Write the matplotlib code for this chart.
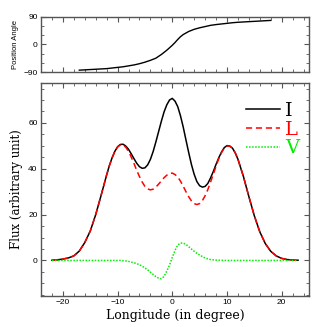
import matplotlib
matplotlib.use("Agg")
import matplotlib.pyplot as plt
from matplotlib.ticker import MultipleLocator

# longitude grid (deg): coarse on the wings, finer in the middle
lon = [-22, -21, -20, -19, -18, -17, -16, -15, -14, -13, -12,
       -11.5, -11, -10.5, -10, -9.5, -9, -8.5, -8, -7.5, -7, -6.5, -6,
       -5.5, -5, -4.5, -4, -3.5, -3, -2.5, -2, -1.5, -1, -0.5, 0,
       0.5, 1, 1.5, 2, 2.5, 3, 3.5, 4, 4.5, 5, 5.5, 6, 6.5, 7,
       7.5, 8, 8.5, 9, 9.5, 10, 10.5, 11, 11.5,
       12, 13, 14, 15, 16, 17, 18, 19, 20, 21, 22, 23]

flux_I = [0.1, 0.3, 0.6, 1.1, 2.0, 4.1, 7.8, 12.8, 20.0, 28.5, 37.3,
          41.4, 44.8, 47.6, 49.6, 50.6, 50.7, 49.9, 48.5, 46.5, 44.4, 42.4, 40.9,
          40.2, 40.4, 41.7, 44.1, 47.5, 51.7, 56.2, 60.7, 64.8, 67.9, 70.0, 70.7,
          69.5, 67.1, 63.1, 58.2, 52.6, 47.1, 41.9, 37.6, 34.4, 32.6, 32.0, 32.3, 33.6, 36.0,
          38.8, 41.9, 44.8, 47.3, 49.2, 50.1, 49.9, 49.0, 47.0,
          44.2, 36.7, 27.9, 19.5, 12.5, 7.4, 4.0, 2.0, 0.9, 0.4, 0.2, 0.1]

flux_L = [0.1, 0.3, 0.6, 1.1, 2.0, 4.1, 7.8, 12.8, 20.0, 28.5, 37.3,
          41.3, 44.7, 47.6, 49.5, 50.4, 50.4, 49.4, 47.6, 45.1, 42.3, 39.3, 36.6,
          34.2, 32.3, 31.2, 30.8, 31.1, 32.0, 33.3, 34.7, 36.1, 37.2, 38.0, 38.1,
          37.5, 36.4, 34.6, 32.4, 30.0, 27.8, 26.0, 24.8, 24.4, 24.8, 26.1, 28.2, 30.9, 34.2,
          37.6, 41.1, 44.4, 47.0, 49.0, 49.9, 49.9, 49.0, 47.0,
          44.2, 36.7, 27.9, 19.5, 12.5, 7.4, 4.0, 2.0, 0.9, 0.4, 0.2, 0.1]

flux_V = [0, 0, 0, 0, 0, 0, 0, 0, 0, 0, 0,
          0, 0, 0, 0, 0, -0.1, -0.2, -0.4, -0.7, -1.0, -1.4, -1.9,
          -2.5, -3.3, -4.1, -5.1, -6.1, -7.0, -7.7, -8.0, -7.0, -4.6, -2.0, 1.3,
          4.4, 6.7, 7.6, 7.6, 7.0, 6.0, 5.0, 4.0, 3.1, 2.4, 1.7, 1.1, 0.7, 0.4,
          0.25, 0.15, 0.08, 0.04, 0, 0, 0, 0, 0,
          0, 0, 0, 0, 0, 0, 0, 0, 0, 0, 0, 0]

# position angle sweep
pa_lon = [-17, -16, -15, -14, -13, -12, -11, -10, -9, -8, -7, -6, -5, -4, -3,
          -2, -1.5, -1, -0.5, 0, 0.5, 1, 1.5, 2, 2.5, 3, 4, 5, 6, 7, 8, 9, 10,
          11, 12, 13, 14, 15, 16, 17, 18]
pa = [-84, -83, -82, -81, -80, -79, -77, -75, -73, -70, -67, -63, -58, -52, -45,
      -33, -26, -19, -11, -3, 6, 16, 25, 32, 37, 42, 49, 54, 58, 62, 64.5, 66.5, 68.5,
      70.5, 72, 73, 74, 75, 76, 77, 78]

fig = plt.figure(figsize=(3.27, 3.27), dpi=100)
ax_pa = fig.add_axes([0.1254, 0.7798, 0.8196, 0.169])
ax = fig.add_axes([0.1254, 0.0948, 0.8196, 0.652])

frame = "#555555"
for a in (ax_pa, ax):
    a.set_xlim(-24, 25)
    a.xaxis.set_major_locator(MultipleLocator(10))
    a.xaxis.set_minor_locator(MultipleLocator(2))
    a.tick_params(which="both", direction="in", top=True, right=True,
                  colors=frame, labelcolor="black", labelsize=6, pad=2.5)
    a.tick_params(which="major", length=3.5, width=0.8)
    a.tick_params(which="minor", length=2, width=0.6)
    for s in a.spines.values():
        s.set_color(frame)
        s.set_linewidth(1.0)
    for lab in a.get_xticklabels() + a.get_yticklabels():
        lab.set_family("Liberation Sans")

ax_pa.plot(pa_lon, pa, color="black", lw=1.0)
ax_pa.set_ylim(-90, 90)
ax_pa.yaxis.set_major_locator(MultipleLocator(90))
ax_pa.yaxis.set_minor_locator(MultipleLocator(30))
ax_pa.tick_params(labelbottom=False)
ax_pa.set_ylabel("Position Angle", fontsize=5.5, family="Liberation Sans", labelpad=3)

ax.plot(lon, flux_I, color="black", lw=1.1, label="I")
ax.plot(lon, flux_L, color="red", lw=1.1, ls=(0, (4, 2.5)), label="L")
ax.plot(lon, flux_V, color="#00ee00", lw=1.1, ls=(0, (1, 1)), label="V")
ax.set_ylim(-15.5, 77.5)
ax.yaxis.set_major_locator(MultipleLocator(20))
ax.yaxis.set_minor_locator(MultipleLocator(5))
ax.set_xlabel("Longitude (in degree)", fontsize=9, family="DejaVu Serif", labelpad=1.5)
ax.set_ylabel("Flux (arbitrary unit)", fontsize=8.5, family="DejaVu Serif", labelpad=4)

leg = ax.legend(loc="upper right", bbox_to_anchor=(1.02, 0.985), frameon=False,
                handlelength=1.75, handletextpad=0.25, labelspacing=0.05,
                borderpad=0.3, prop={"family": "DejaVu Serif", "size": 14})
for txt, col in zip(leg.get_texts(), ["black", "red", "#00ee00"]):
    txt.set_color(col)

fig.savefig("out.png", dpi=100)
